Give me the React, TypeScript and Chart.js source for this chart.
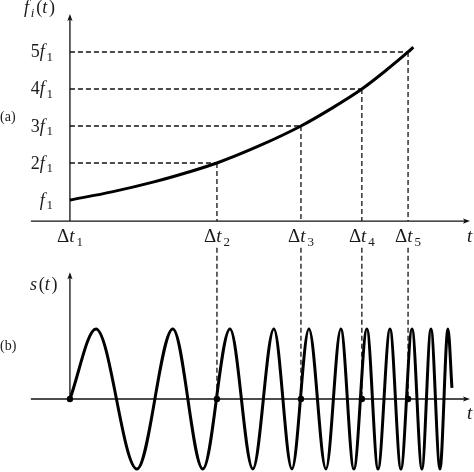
import React, { useEffect, useRef } from 'react';
import Chart from 'chart.js/auto';

// marker times Δt1..Δt5 (same unit as the time axis)
const markerTimes = [0, 70, 110, 139, 161];
const markerSubs = ['1', '2', '3', '4', '5'];

// frequency levels reached at the markers, in units of f1
const freqLevels = [1, 2, 3, 4, 5];
const freqCoeffs = ['', '2', '3', '4', '5'];

// instantaneous frequency curve f_i(t)
const chirpTimes = [0, 20, 40, 55, 70, 90, 110, 125, 139, 150, 161, 163.5];
const chirpFreqs = [1, 1.22, 1.49, 1.73, 2, 2.46, 3, 3.49, 4, 4.48, 5, 5.13];

// signal s(t): start, crests/troughs and end point
const signalTimes = [
  0, 12.4, 31.9, 49.0, 63.3, 76.2, 87.1, 97.1, 105.7, 113.8, 121.9, 129.0,
  135.2, 141.4, 146.7, 152.4, 157.6, 162.9, 167.6, 171.9, 176.2, 180.0, 181.9,
];
const signalValues = [
  0, 1, -1, 1, -1, 1, -1, 1, -1, 1, -1, 1,
  -1, 1, -1, 1, -1, 1, -1, 1, -1, 1, 0.16,
];

const FONT = '"Liberation Serif", "DejaVu Serif", serif';
const INK = '#111';

type Part = { s: string; it?: boolean; sub?: boolean };

function drawMath(
  ctx: CanvasRenderingContext2D,
  parts: Part[],
  x: number,
  y: number,
  size: number,
  align: 'left' | 'center' | 'right'
) {
  const fontFor = (p: Part) =>
    `${p.it ? 'italic ' : ''}${p.sub ? Math.round(size * 0.7) : size}px ${FONT}`;
  const widths = parts.map((p) => {
    ctx.font = fontFor(p);
    return ctx.measureText(p.s).width + (p.it ? size * 0.1 : 0);
  });
  const total = widths.reduce((a, b) => a + b, 0);
  let cx = align === 'left' ? x : align === 'center' ? x - total / 2 : x - total;
  ctx.textAlign = 'left';
  ctx.textBaseline = 'alphabetic';
  parts.forEach((p, i) => {
    ctx.font = fontFor(p);
    ctx.fillText(p.s, cx, p.sub ? y + size * 0.2 : y);
    cx += widths[i];
  });
}

function seg(ctx: CanvasRenderingContext2D, x1: number, y1: number, x2: number, y2: number) {
  ctx.beginPath();
  ctx.moveTo(x1, y1);
  ctx.lineTo(x2, y2);
  ctx.stroke();
}

function arrow(ctx: CanvasRenderingContext2D, x: number, y: number, dir: 'up' | 'right') {
  ctx.beginPath();
  if (dir === 'up') {
    ctx.moveTo(x, y);
    ctx.lineTo(x - 2.6, y + 7);
    ctx.lineTo(x, y + 5.5);
    ctx.lineTo(x + 2.6, y + 7);
  } else {
    ctx.moveTo(x, y);
    ctx.lineTo(x - 7, y - 2.6);
    ctx.lineTo(x - 5.5, y);
    ctx.lineTo(x - 7, y + 2.6);
  }
  ctx.closePath();
  ctx.fill();
}

// axis geometry in data units
const TOP_AXIS_F = 0.43;
const TOP_YAXIS_END = 6.03;
const BOT_YAXIS_END = 1.81;
const XAXIS_START = -18.6;
const XAXIS_END = 190.5;
const GUIDE_BOTTOM_START = 2.16;

const diagramPlugin = {
  id: 'diagram',
  beforeDatasetsDraw(chart: any) {
    const { ctx, scales } = chart;
    const x = scales.x;
    const yf = scales.yf;
    const ys = scales.ys;
    ctx.save();
    ctx.strokeStyle = INK;
    ctx.fillStyle = INK;

    // dashed guides
    ctx.lineWidth = 1.3;
    ctx.setLineDash([5, 3]);
    markerTimes.forEach((t, i) => {
      if (i === 0) return;
      const px = x.getPixelForValue(t);
      const py = yf.getPixelForValue(freqLevels[i]);
      seg(ctx, x.getPixelForValue(0), py, px, py);
      seg(ctx, px, py, px, yf.getPixelForValue(TOP_AXIS_F));
      seg(ctx, px, ys.getPixelForValue(GUIDE_BOTTOM_START), px, ys.getPixelForValue(0));
    });
    ctx.setLineDash([]);

    // axes
    ctx.lineWidth = 1.3;
    const x0 = x.getPixelForValue(0);
    const xs = x.getPixelForValue(XAXIS_START);
    const xe = x.getPixelForValue(XAXIS_END);
    const topAxis = yf.getPixelForValue(TOP_AXIS_F);
    const topEnd = yf.getPixelForValue(TOP_YAXIS_END);
    const botAxis = ys.getPixelForValue(0);
    const botEnd = ys.getPixelForValue(BOT_YAXIS_END);
    seg(ctx, xs, topAxis, xe - 3, topAxis);
    seg(ctx, x0, topAxis, x0, topEnd + 3);
    seg(ctx, xs, botAxis, xe - 3, botAxis);
    seg(ctx, x0, botAxis, x0, botEnd + 3);
    arrow(ctx, xe, topAxis, 'right');
    arrow(ctx, x0, topEnd, 'up');
    arrow(ctx, xe, botAxis, 'right');
    arrow(ctx, x0, botEnd, 'up');
    ctx.restore();
  },
  afterDraw(chart: any) {
    const { ctx, scales } = chart;
    const x = scales.x;
    const yf = scales.yf;
    const ys = scales.ys;
    ctx.save();
    ctx.fillStyle = '#1a1a1a';
    const x0 = x.getPixelForValue(0);
    const topAxis = yf.getPixelForValue(TOP_AXIS_F);
    const botAxis = ys.getPixelForValue(0);

    // frequency tick labels
    freqLevels.forEach((f, i) => {
      const py = yf.getPixelForValue(f);
      const parts: Part[] = [];
      if (freqCoeffs[i]) parts.push({ s: freqCoeffs[i] });
      parts.push({ s: 'f', it: true }, { s: '1', sub: true });
      drawMath(ctx, parts, x0 - 17, py + 5.5, 18, 'right');
    });

    // Δt labels
    markerTimes.forEach((t, i) => {
      drawMath(
        ctx,
        [{ s: 'Δ' }, { s: 't', it: true }, { s: markerSubs[i], sub: true }],
        x.getPixelForValue(t),
        topAxis + 21,
        19,
        'center'
      );
    });

    // axis titles
    drawMath(ctx, [{ s: 'f', it: true }, { s: 'i', it: true, sub: true }, { s: '(' }, { s: 't', it: true }, { s: ')' }], x0 - 46, 13, 18, 'left');
    drawMath(ctx, [{ s: 's', it: true }, { s: '(' }, { s: 't', it: true }, { s: ')' }], x0 - 40, 290, 18, 'left');
    drawMath(ctx, [{ s: 't', it: true }], x.getPixelForValue(XAXIS_END) - 3, topAxis + 21, 19, 'left');
    drawMath(ctx, [{ s: 't', it: true }], x.getPixelForValue(XAXIS_END) - 3, botAxis + 20, 19, 'left');

    // panel tags
    drawMath(ctx, [{ s: '(a)' }], 0, 121, 14, 'left');
    drawMath(ctx, [{ s: '(b)' }], 0, 350, 14, 'left');
    ctx.restore();
  },
};

const ChirpDiagram: React.FC = () => {
  const canvasRef = useRef<HTMLCanvasElement>(null);
  const chartRef = useRef<Chart | null>(null);

  useEffect(() => {
    if (!canvasRef.current) return;
    const ctx = canvasRef.current.getContext('2d');
    if (!ctx) return;
    if (chartRef.current) chartRef.current.destroy();

    chartRef.current = new Chart(ctx, {
      type: 'line',
      data: {
        datasets: [
          {
            data: chirpTimes.map((t, i) => ({ x: t, y: chirpFreqs[i] })),
            yAxisID: 'yf',
            borderColor: '#000',
            borderWidth: 3,
            pointRadius: 0,
            cubicInterpolationMode: 'monotone',
          },
          {
            data: signalTimes.map((t, i) => ({ x: t, y: signalValues[i] })),
            yAxisID: 'ys',
            borderColor: '#000',
            borderWidth: 3,
            pointRadius: 0,
            cubicInterpolationMode: 'monotone',
          },
          {
            type: 'scatter',
            data: markerTimes.map((t) => ({ x: t, y: 0 })),
            yAxisID: 'ys',
            backgroundColor: '#000',
            borderWidth: 0,
            pointRadius: 3.2,
          },
        ],
      } as any,
      options: {
        animation: false,
        responsive: false,
        layout: { padding: 0, autoPadding: false },
        plugins: {
          legend: { display: false },
          tooltip: { enabled: false },
        },
        scales: {
          x: { type: 'linear', min: -33.3, max: 192.4, display: false },
          yf: { type: 'linear', min: -6.35, max: 6.405, display: false },
          ys: { type: 'linear', min: -1.043, max: 5.7, display: false },
        },
      },
      plugins: [diagramPlugin],
    });

    return () => {
      if (chartRef.current) {
        chartRef.current.destroy();
        chartRef.current = null;
      }
    };
  }, []);

  return (
    <div style={{ position: 'absolute', left: 0, top: 0, width: 474, height: 472, background: '#fff' }}>
      <canvas ref={canvasRef} width={474} height={472} style={{ display: 'block' }} />
    </div>
  );
};

export default function App() {
  return <ChirpDiagram />;
}
